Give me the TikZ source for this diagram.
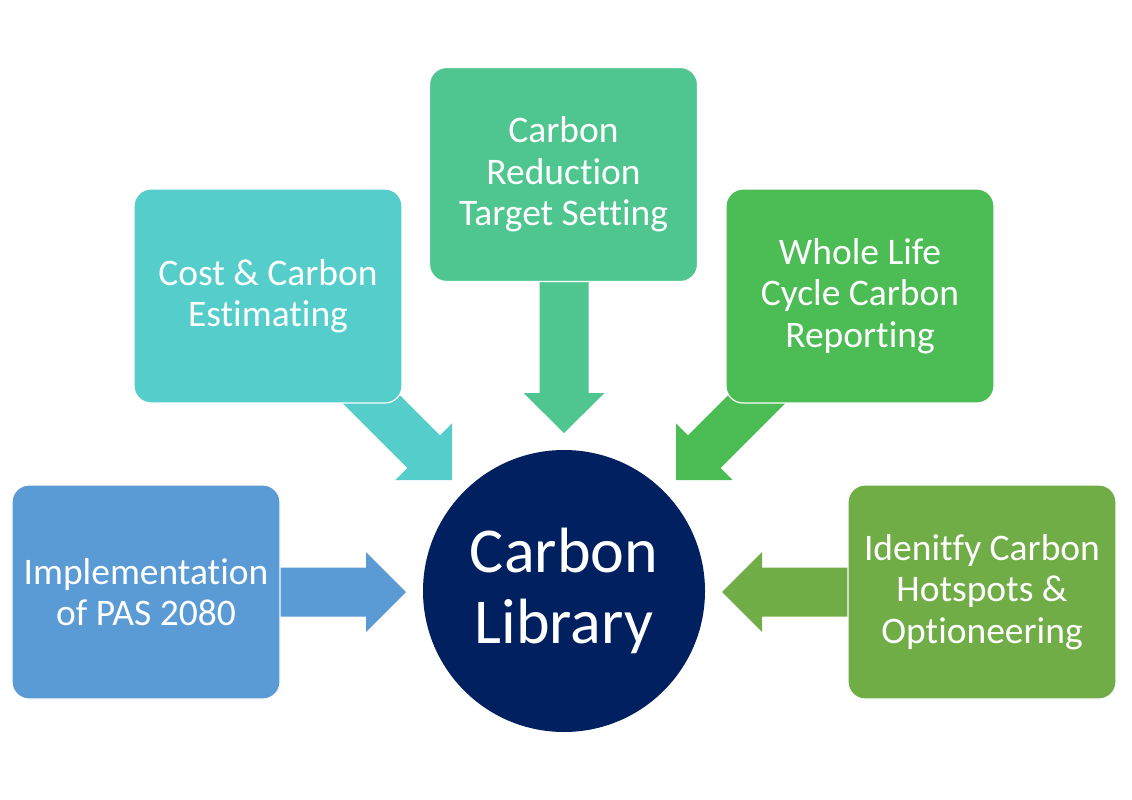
\documentclass[tikz,border=0pt]{standalone}
\usepackage{fontspec}
\setmainfont{Carlito}[RawFeature={-liga;-calt;-dlig;-clig}]
\usetikzlibrary{calc}
\definecolor{cblue}{HTML}{5B9BD5}
\definecolor{cteal}{HTML}{55CECB}
\definecolor{cmint}{HTML}{4FC68F}
\definecolor{cgreen}{HTML}{4CBC55}
\definecolor{colive}{HTML}{70AD47}
\definecolor{cnavy}{HTML}{002060}
% #1 colour, #2 start, #3 tip, #4 shaft half width, #5 head length, #6 head half width
\newcommand{\myblockarrow}[6]{%
  \coordinate (ah) at ($(#3)!#5!(#2)$);
  \fill[#1] ($(#2)!#4!90:(#3)$) -- ($(ah)!#4!-90:(#2)$) -- ($(ah)!#6!-90:(#2)$)
    -- (#3) -- ($(ah)!#6!90:(#2)$) -- ($(ah)!#4!90:(#2)$) -- ($(#2)!#4!-90:(#3)$) -- cycle;
}
\begin{document}
\begin{tikzpicture}[x=1pt,y=-1pt,
  box/.style={rectangle, rounded corners=17pt, draw=white, line width=1.2pt,
    text=white, align=center, minimum width=268pt, minimum height=214pt,
    inner sep=0pt, font=\fontsize{37.5}{41.5}\selectfont},
  hub/.style={circle, fill=cnavy, text=white, align=center, minimum size=282pt,
    inner sep=0pt, font=\fontsize{64}{71}\selectfont}]
\useasboundingbox[fill=white] (0,0) rectangle (1132,800);

% arrow end points
\coordinate (s1) at (270,592);  \coordinate (t1) at (406,592);
\coordinate (s2) at (330,358);  \coordinate (t2) at (452,480);
\coordinate (s3) at (564,270);  \coordinate (t3) at (564,433);
\coordinate (s4) at (798,358);  \coordinate (t4) at (676,480);
\coordinate (s5) at (860,592);  \coordinate (t5) at (722,592);

\myblockarrow{cblue}{s1}{t1}{24.5pt}{40pt}{40pt}
\myblockarrow{cteal}{s2}{t2}{23pt}{40pt}{40pt}
\myblockarrow{cmint}{s3}{t3}{24.5pt}{40pt}{40.5pt}
\myblockarrow{cgreen}{s4}{t4}{23pt}{40pt}{40pt}
\myblockarrow{colive}{s5}{t5}{24.5pt}{40pt}{40pt}

\node[box, fill=cblue]  (b1) at (146,592)   {Implementation\\of PAS 2080};
\node[box, fill=cteal]  (b2) at (268,296)   {Cost \& Carbon\\Estimating};
\node[box, fill=cmint]  (b3) at (563.5,174.5) {Carbon\\Reduction\\Target Setting};
\node[box, fill=cgreen] (b4) at (860,296)   {Whole Life\\Cycle Carbon\\Reporting};
\node[box, fill=colive] (b5) at (982,592)   {Idenitfy Carbon\\Hotspots \&\\Optioneering};

\node[hub] (lib) at (564,591) {Carbon\\Library};
\end{tikzpicture}
\end{document}
